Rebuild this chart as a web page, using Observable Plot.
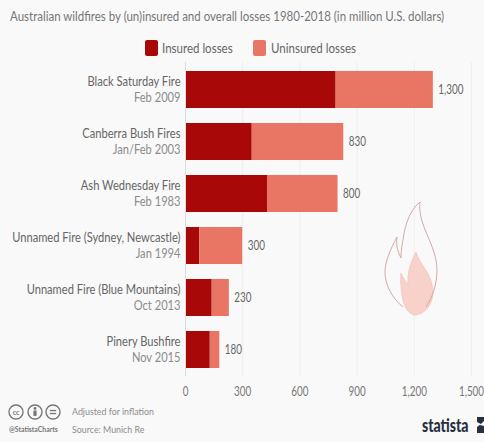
<!DOCTYPE html>
<html>
<head>
<meta charset="utf-8">
<script src="https://cdn.jsdelivr.net/npm/d3@7"></script>
<script src="https://cdn.jsdelivr.net/npm/@observablehq/plot@0.6"></script>
<style>
  html, body { margin: 0; background: #f9f9f9; }
  #page { position: relative; width: 484px; height: 442px; overflow: hidden; font-family: Lato, sans-serif; color: #6a6a6a; }
  #page > * { position: absolute; }
  .squeezed { transform-origin: left center; white-space: nowrap; }
  #title { left: 10px; top: 8px; font-size: 13.6px; color: #777; transform: scaleX(.846); }
  .swatch { top: 40px; width: 13px; height: 16px; border-radius: 2px; }
  .key { top: 40px; font-size: 13.4px; color: #666; transform: scaleX(.86); }
  #chart { left: 0; top: 56px; }
  .note { left: 72px; font-size: 9.5px; color: #8c8c8c; transform: scaleX(.93); }
  #handle { left: 9px; top: 425px; font-size: 7px; font-weight: 700; color: #777; transform: scaleX(.98); }
  #brand { left: 422px; top: 414px; font-size: 18px; font-weight: 900; color: #26303f; transform: scaleX(.78); }
</style>
</head>
<body>
<div id="page">
  <div id="title" class="squeezed">Australian wildfires by (un)insured and overall losses 1980-2018 (in million U.S. dollars)</div>
  <div class="swatch" style="left:145px;background:#a80808"></div>
  <div class="key squeezed" style="left:162px">Insured losses</div>
  <div class="swatch" style="left:253px;background:#e97565"></div>
  <div class="key squeezed" style="left:271px">Uninsured losses</div>
  <div id="chart"></div>
  <!-- flame emblem -->
  <svg style="left:380px;top:195px" width="62" height="125" viewBox="380 195 62 125">
    <path d="M416 252 C420 265 433 275 433 292 C433 305 424 315 415 315 C408 315 403 305 402 295 C401 288 400 280 401 273 C403 278 406 282 408 285 C407 274 410 263 416 252 Z" fill="#f8d2ca" stroke="#f0bcb3" stroke-width="0.6"/>
    <path d="M403 307 C392 298 385 285 385 272 C385 262 390 250 397 237 C396 244 397 250 401 258 C401 250 402 245 403 240 C405 222 412 208 420 202 C417 225 437 245 437 270 C437 285 432 298 426 307" fill="none" stroke="#d3a9a9" stroke-width="1"/>
  </svg>
  <!-- licence badges -->
  <svg style="left:8px;top:403px" width="56" height="18" viewBox="0 0 56 18" font-family="Lato, sans-serif" fill="#777">
    <g fill="none" stroke="#777" stroke-width="1.4">
      <circle cx="8" cy="9" r="7"/><circle cx="27" cy="9" r="7"/><circle cx="45" cy="9" r="7"/>
    </g>
    <text x="8" y="11.5" font-size="7" font-weight="700" text-anchor="middle">cc</text>
    <circle cx="27" cy="5.5" r="1.4"/>
    <rect x="25.4" y="7.5" width="3.2" height="5.4"/>
    <rect x="41.8" y="6.9" width="6.4" height="1.3"/>
    <rect x="41.8" y="9.9" width="6.4" height="1.3"/>
  </svg>
  <div id="handle" class="squeezed">@StatistaCharts</div>
  <div class="note squeezed" style="top:406px">Adjusted for inflation</div>
  <div class="note squeezed" style="top:424px">Source: Munich Re</div>
  <div id="brand" class="squeezed">statista</div>
  <svg style="left:477px;top:417px" width="7" height="16" viewBox="0 0 7 16"><path d="M0 0H7V4L3 8L7 9V16H0V10L4 7L0 5Z" fill="#26303f"/></svg>
</div>
<script>
// Losses per fire in million U.S. dollars, inflation adjusted
const fires = ["Black Saturday Fire", "Canberra Bush Fires", "Ash Wednesday Fire",
  "Unnamed Fire (Sydney, Newcastle)", "Unnamed Fire (Blue Mountains)", "Pinery Bushfire"];
const dates = ["Feb 2009", "Jan/Feb 2003", "Feb 1983", "Jan 1994", "Oct 2013", "Nov 2015"];
const insured = [790, 350, 430, 75, 140, 130];
const uninsured = [510, 480, 370, 225, 90, 50];
const ticks = [0, 300, 600, 900, 1200, 1500];

const rows = fires.map((fire, i) => ({fire, date: dates[i], insured: insured[i], uninsured: uninsured[i], total: insured[i] + uninsured[i]}));
const long = rows.flatMap(r => [
  {fire: r.fire, kind: "Insured losses", value: r.insured},
  {fire: r.fire, kind: "Uninsured losses", value: r.uninsured}
]);

const chart = Plot.plot({
  width: 484,
  height: 344,
  marginLeft: 185,
  marginRight: 13,
  marginTop: 6,
  marginBottom: 24,
  style: {background: "transparent", fontFamily: "Lato, sans-serif", overflow: "visible"},
  x: {domain: [0, 1500], ticks, tickFormat: d3.format(",")},
  y: {domain: fires, paddingInner: 0.29, paddingOuter: 0.145, axis: null},
  color: {domain: ["Insured losses", "Uninsured losses"], range: ["#a80808", "#e97565"]},
  marks: [
    Plot.gridX(ticks, {stroke: "#eeeeee", strokeOpacity: 1}),
    Plot.barX(long, Plot.stackX({x: "value", y: "fire", fill: "kind", order: ["Insured losses", "Uninsured losses"]})),
    Plot.ruleX([0], {stroke: "#dcdcdc"}),
    Plot.axisX({ticks, tickFormat: d3.format(","), tickSize: 0, tickPadding: 10, label: null, fontSize: 13, fill: "#777"}),
    Plot.text(rows, {x: 0, y: "fire", text: "fire", textAnchor: "end", dx: -5, dy: -8, fontSize: 12.5, fill: "#666"}),
    Plot.text(rows, {x: 0, y: "fire", text: "date", textAnchor: "end", dx: -5, dy: 8, fontSize: 12.5, fill: "#8c8c8c"}),
    Plot.text(rows, {x: "total", y: "fire", text: d => d3.format(",")(d.total), textAnchor: "start", dx: 5, fontSize: 13, fill: "#666", className: "total"})
  ]
});
// Narrow every chart label to a condensed letterform, anchored on its own position
const narrow = (selector, k) => chart.querySelectorAll(selector).forEach(t => {
  t.setAttribute("transform", `${t.getAttribute("transform") ?? ""} scale(${k},1)`);
});
const numeric = [...chart.querySelectorAll("text")].filter(t => /^[\d,]+$/.test(t.textContent));
numeric.forEach(t => t.setAttribute("data-numeric", ""));
narrow("text:not([data-numeric])", 0.89);
narrow("text[data-numeric]", 0.76);
document.getElementById("chart").append(chart);
</script>
</body>
</html>
